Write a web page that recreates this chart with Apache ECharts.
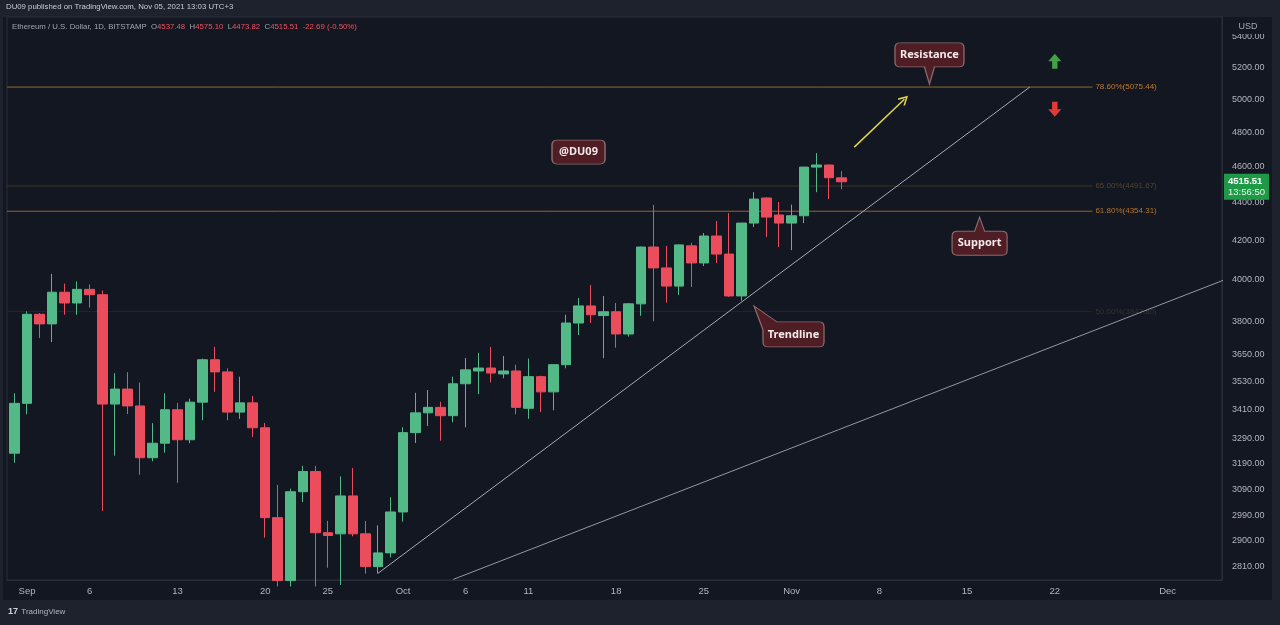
<!DOCTYPE html>
<html><head><meta charset="utf-8">
<script src="https://cdn.jsdelivr.net/npm/echarts@6/dist/echarts.min.js"></script>
<style>html,body{margin:0;padding:0;background:#131722;}#c{width:1280px;height:625px;}</style>
</head><body><div id="c"></div>
<script>
// ---------- DATA ----------
const firstDate = '2021-08-31';
const opens  = [3230,3435,3834,3789,3940,3888,3954,3928,3432,3496,3424,3212,3270,3408,3284,3440,3625,3571,3398,3437,3333,2983,2760,3080,3158,2928,2924,3064,2924,2808,2856,3004,3313,3395,3418,3383,3519,3575,3588,3562,3575,3414,3550,3484,3603,3793,3874,3828,3846,3742,3884,4166,4060,3970,4172,4085,4223,4130,3922,4291,4426,4334,4291,4330,4598,4610,4537.48];
const highs  = [3478,3848,3840,4030,3982,3993,3978,3948,3565,3570,3524,3352,3478,3437,3455,3630,3683,3587,3550,3466,3353,3106,3092,3180,3180,2971,3139,3172,2971,2955,3059,3335,3480,3492,3442,3550,3633,3656,3683,3642,3603,3630,3554,3605,3832,3912,3975,3922,3888,3888,4168,4388,4172,4180,4188,4239,4302,4344,4292,4458,4430,4404,4390,4600,4678,4612,4575.10];
const lows   = [3192,3389,3724,3705,3832,3832,3866,3008,3220,3390,3145,3198,3232,3114,3270,3364,3484,3364,3370,3295,2910,2740,2740,3041,2740,2804,2745,2915,2784,2784,2840,2968,3271,3340,3280,3356,3335,3474,3525,3543,3389,3370,3398,3406,3587,3737,3793,3632,3679,3730,3827,3801,3890,3927,3966,4069,4085,3917,3899,4270,4218,4166,4150,4291,4458,4420,4473.82];
const closes = [3435,3834,3789,3940,3888,3954,3928,3432,3496,3424,3212,3270,3408,3284,3440,3625,3571,3398,3437,3333,2983,2760,3080,3158,2928,2918,3064,2924,2808,2856,3004,3313,3395,3418,3383,3519,3580,3588,3566,3575,3418,3550,3484,3603,3793,3874,3832,3846,3742,3884,4166,4060,3970,4177,4085,4223,4130,3922,4291,4420,4323,4291,4330,4598,4610,4538.20,4515.51];

const yTickValues = [5400,5200,5000,4800,4600,4400,4200,4000,3800,3650,3530,3410,3290,3190,3090,2990,2900,2810];
const xTickDates  = ['2021-09-01','2021-09-06','2021-09-13','2021-09-20','2021-09-25','2021-10-01','2021-10-06','2021-10-11','2021-10-18','2021-10-25','2021-11-01','2021-11-08','2021-11-15','2021-11-22','2021-12-01'];
const xTickTexts  = ['Sep','6','13','20','25','Oct','6','11','18','25','Nov','8','15','22','Dec'];

const fibValues = [5075.44, 4491.67, 4354.31, 3847.80];
const fibTexts  = ['78.60%(5075.44)','65.00%(4491.67)','61.80%(4354.31)','50.00%(3847.80)'];
const fibEndDate = '2021-11-25';

const trendA = [['2021-09-29', 2785], ['2021-11-20', 5075.44]];
const trendB = [['2021-10-05', 2764], ['2021-12-06', 4012]];
const yellowArrow = [['2021-11-06', 4713], ['2021-11-10', 5000]];
const callouts = [
  {name: 'Resistance', date: '2021-11-12', price: 5095},
  {name: 'Support',    date: '2021-11-16', price: 4322},
  {name: 'Trendline',  date: '2021-10-29', price: 3874},
  {name: '@DU09',      date: '2021-10-15', price: 4684}
];
const signArrows = [
  {name: 'up',   date: '2021-11-22', price: 5240},
  {name: 'down', date: '2021-11-22', price: 4939}
];
const priceTime = '13:56:50';

// ---------- HELPERS ----------
const DAY = 86400000;
const d = s => { const p = s.split('-').map(Number); return Date.UTC(p[0], p[1]-1, p[2]); };
const t0 = d(firstDate);
const dates = opens.map((_, i) => t0 + i * DAY);
const candleData = opens.map((o, i) => [dates[i], o, closes[i], lows[i], highs[i]]);
const xMin = t0 - 0.6 * DAY;
const xMax = t0 + 96.34 * DAY;
const xTickVals = xTickDates.map(d);
const xLabelMap = {};
xTickVals.forEach((v, i) => { xLabelMap[v] = xTickTexts[i]; });

const UP = '#53b987', DOWN = '#eb4d5c';
const F = 'Liberation Sans, Arial, sans-serif';
const FN = 'Noto Sans, sans-serif';

const last = closes.length - 1;
const chg = closes[last] - closes[last - 1];
const chgPct = chg / closes[last - 1] * 100;
const headerText = '{g|Ethereum / U.S. Dollar, 1D, BITSTAMP}  {g|O}{r|' + opens[last].toFixed(2) + '}  {g|H}{r|' + highs[last].toFixed(2) +
  '}  {g|L}{r|' + lows[last].toFixed(2) + '}  {g|C}{r|' + closes[last].toFixed(2) + '}  {r|' + chg.toFixed(2) + ' (' + chgPct.toFixed(2) + '%)}';

const calloutStyle = {
  'Resistance': {path: 'path://M5,0 L64,0 Q69,0 69,5 L69,19 Q69,24 64,24 L39.5,24 L34.5,41 L29.5,24 L5,24 Q0,24 0,19 L0,5 Q0,0 5,0 Z', size: [69, 41], offset: [0, -20.5], labelOffset: [0, -8.5]},
  'Support':    {path: 'path://M27.5,0 L32.5,14 L50,14 Q55,14 55,19 L55,33 Q55,38 50,38 L5,38 Q0,38 0,33 L0,19 Q0,14 5,14 L22.5,14 Z', size: [55, 38], offset: [0, 19], labelOffset: [0, 7]},
  'Trendline':  {path: 'path://M0,0 L23,16 L65,16 Q70,16 70,21 L70,36 Q70,41 65,41 L14,41 Q9,41 9,36 L9,24 Z', size: [70, 41], offset: [35, 20.5], labelOffset: [4.5, 8]},
  '@DU09':      {path: 'path://M5,0 L48,0 Q53,0 53,5 L53,19 Q53,24 48,24 L5,24 Q0,24 0,19 L0,5 Q0,0 5,0 Z', size: [53, 24], offset: [0, 0], labelOffset: [0, 0]}
};
const signStyle = {
  up:   {path: 'path://M6,0 L12,7 L8.5,7 L8.5,14 L3.5,14 L3.5,7 L0,7 Z', color: '#43a047'},
  down: {path: 'path://M3.5,0 L8.5,0 L8.5,7 L12,7 L6,14 L0,7 L3.5,7 Z', color: '#e53935'}
};
const fibStyle = [
  {line: '#93662b', text: '#c07a30'},
  {line: '#3e3424', text: '#54452e'},
  {line: '#93662b', text: '#b3742e'},
  {line: '#26262c', text: '#35322f'}
];

const fibSeries = fibValues.map((v, i) => ({
  type: 'line', name: 'fib' + i, data: [[xMin, v], [d(fibEndDate), v]], symbol: 'none', silent: true, z: 1,
  lineStyle: {color: fibStyle[i].line, width: 1},
  endLabel: {show: true, formatter: fibTexts[i], color: fibStyle[i].text, fontSize: 8, fontFamily: F, distance: 3}
}));

const chart = echarts.init(document.getElementById('c'));
chart.setOption({
  animation: false,
  backgroundColor: '#131722',
  title: [
    {text: 'DU09 published on TradingView.com, Nov 05, 2021 13:03 UTC+3', left: 6, top: 3, padding: 0,
     textStyle: {color: '#c8cbd3', fontSize: 7.8, fontWeight: 'normal', fontFamily: F}},
    {text: headerText, left: 12, top: 23, padding: 0,
     textStyle: {fontSize: 7.8, fontWeight: 'normal', fontFamily: F,
       rich: {g: {color: '#a3a6af', fontSize: 7.8, fontFamily: F}, r: {color: '#ef5360', fontSize: 7.8, fontFamily: F}}}}
  ],
  graphic: [
    {type: 'rect', shape: {x: 0, y: 0, width: 1280, height: 17}, style: {fill: '#1e222d'}, z: -1, silent: true},
    {type: 'rect', shape: {x: 0, y: 600, width: 1280, height: 25}, style: {fill: '#1e222d'}, z: -1, silent: true},
    {type: 'rect', shape: {x: 0, y: 0, width: 3, height: 625}, style: {fill: '#1e222d'}, z: -1, silent: true},
    {type: 'rect', shape: {x: 1272, y: 0, width: 8, height: 625}, style: {fill: '#1e222d'}, z: -1, silent: true},
    {type: 'rect', shape: {x: 1223, y: 18, width: 48, height: 16}, style: {fill: '#131722'}, z: 50, silent: true},
    {type: 'text', x: 1248, y: 27, style: {text: 'USD', fill: '#a3a6af', font: '9px Liberation Sans, Arial', textAlign: 'center', textVerticalAlign: 'middle'}, z: 51, silent: true},
    {type: 'text', x: 8, y: 612, style: {text: '{l|17} {t|TradingView}', rich: {l: {fill: '#d1d4dc', font: 'bold 9px Liberation Sans, Arial'}, t: {fill: '#b2b5be', font: '8px Liberation Sans, Arial'}}, textVerticalAlign: 'middle'}, z: 51, silent: true}
  ],
  grid: {left: 7, right: 58, top: 17, bottom: 45, show: true, borderColor: '#2a2e39', borderWidth: 1, backgroundColor: 'transparent', outerBoundsMode: 'none'},
  xAxis: {
    type: 'value', min: xMin, max: xMax, scale: true,
    axisLine: {show: true, lineStyle: {color: '#2a2e39'}},
    axisTick: {show: false},
    splitLine: {show: false},
    axisLabel: {customValues: xTickVals, formatter: v => xLabelMap[v] || '', color: '#b2b5be', fontSize: 9.5, fontFamily: F, margin: 6}
  },
  yAxis: {
    type: 'log', position: 'right', min: 2762, max: 5534, logBase: 10,
    axisLine: {show: true, lineStyle: {color: '#2a2e39'}},
    axisTick: {show: false},
    splitLine: {show: false},
    axisLabel: {customValues: yTickValues, formatter: v => Number(v).toFixed(2), color: '#b2b5be', fontSize: 9, fontFamily: F, margin: 10}
  },
  series: fibSeries.concat([
    {
      type: 'candlestick', name: 'ETHUSD', data: candleData, barWidth: 10, z: 3,
      itemStyle: {color: UP, color0: DOWN, borderColor: UP, borderColor0: DOWN, borderWidth: 1}
    },
    {
      type: 'line', name: 'trendA', data: trendA.map(p => [d(p[0]), p[1]]), symbol: 'none', silent: true, z: 4,
      lineStyle: {color: '#a7aab3', width: 1}
    },
    {
      type: 'line', name: 'trendB', data: trendB.map(p => [d(p[0]), p[1]]), symbol: 'none', silent: true, z: 4, clip: true,
      lineStyle: {color: '#9598a1', width: 1},
      markLine: {
        silent: true, animation: false, symbol: ['none', 'none'],
        data: [
          [
            {coord: [d(yellowArrow[0][0]), yellowArrow[0][1]], symbol: 'none', lineStyle: {color: '#e0d44c', width: 1.5, type: 'solid'}, label: {show: false}},
            {coord: [d(yellowArrow[1][0]), yellowArrow[1][1]], symbol: 'path://M5,0 L10,8 L8.8,9 L5,2.8 L1.2,9 L0,8 Z', symbolSize: 10}
          ],
          {yAxis: closes[last], lineStyle: {color: 'rgba(0,0,0,0)', width: 1}, symbol: 'none',
           label: {show: true, position: 'end', distance: 2, offset: [0, 5],
             formatter: '{a|' + closes[last].toFixed(2) + '}\n{b|' + priceTime + '}',
             backgroundColor: '#1e9a46', padding: [2, 4, 2, 4],
             rich: {a: {color: '#ffffff', fontSize: 9.5, fontWeight: 'bold', lineHeight: 11, fontFamily: F},
                    b: {color: '#e6f5ea', fontSize: 9.5, lineHeight: 11, fontFamily: F}}}}
        ]
      },
      markPoint: {
        silent: true, animation: false,
        data: callouts.map(c => {
          const s = calloutStyle[c.name];
          return {name: c.name, coord: [d(c.date), c.price], symbol: s.path, symbolSize: s.size, symbolOffset: s.offset,
            itemStyle: {color: '#4f1d24', borderColor: '#8d6a6e', borderWidth: 1},
            label: {show: true, position: 'inside', offset: s.labelOffset, formatter: '{b}', color: '#f2e9e9', fontSize: 11, fontWeight: 'bold', fontFamily: FN}};
        }).concat(signArrows.map(a => ({
          name: a.name, coord: [d(a.date), a.price], symbol: signStyle[a.name].path, symbolSize: [13, 15],
          itemStyle: {color: signStyle[a.name].color}, label: {show: false}
        })))
      }
    }
  ])
});
</script>
</body></html>
